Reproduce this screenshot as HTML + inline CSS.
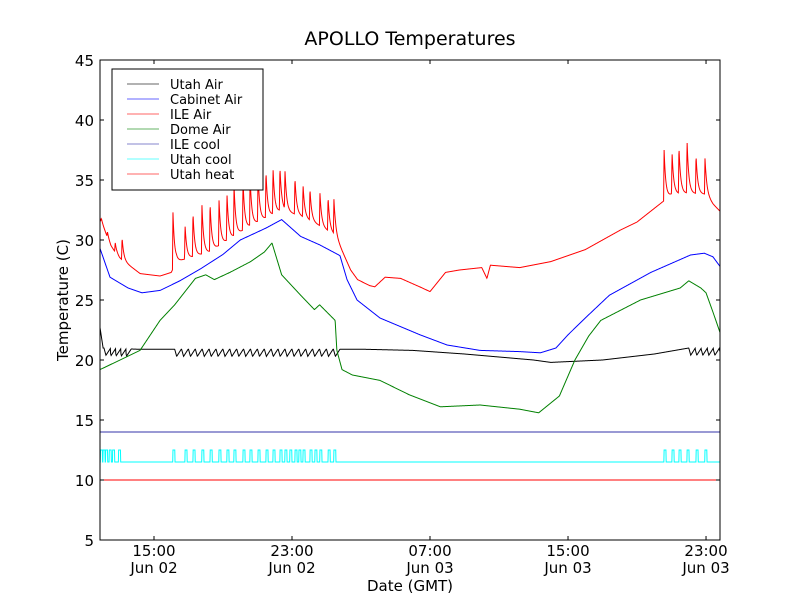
<!DOCTYPE html>
<html><head><meta charset="utf-8"><style>
body{margin:0;background:#fff;}
svg text{font-family:"DejaVu Sans","Liberation Sans",sans-serif;}
</style></head><body>
<svg id="chart" width="800" height="600" viewBox="0 0 800 600">
<rect width="800" height="600" fill="#fff"/>
<text x="410" y="45" text-anchor="middle" font-size="19">APOLLO Temperatures</text>
<g id="plot"></g>
<rect x="100" y="60" width="620" height="480" fill="none" stroke="#000" stroke-width="1"/>
<g id="axes"></g>
<text x="410" y="591" text-anchor="middle" font-size="15">Date (GMT)</text>
<text transform="translate(68,300) rotate(-90)" text-anchor="middle" font-size="15">Temperature (C)</text>
<g>
<rect x="112" y="69" width="151" height="121" fill="#fff" stroke="#000" stroke-width="1"/>
<g id="legend"></g>
</g>
</svg>
<script>
// hours since Jun 02 00:00 GMT
const tMin = 11.87, tMax = 47.81, yMin = 5, yMax = 45;
const yTicks = [5,10,15,20,25,30,35,40,45];
const xTickHours = [15,23,31,39,47];
const xTickTimes = ["15:00","23:00","07:00","15:00","23:00"];
const xTickDays = ["Jun 02","Jun 02","Jun 03","Jun 03","Jun 03"];

const cabinetT = [11.87,12.45,13.5,14.3,15.35,16.5,17.7,19,20,21.5,22.4,23.5,24.6,25.78,26.19,26.77,28.1,30.42,31.99,33.9,36.2,37.4,38.3,39,40,41.4,43.8,46.1,46.9,47.4,47.81];
const cabinetV = [29.3,26.9,26,25.6,25.8,26.6,27.6,28.8,30,31,31.7,30.3,29.6,28.7,26.7,25,23.5,22.1,21.25,20.8,20.7,20.6,21,22.1,23.5,25.4,27.3,28.75,28.9,28.6,27.8];

const domeT = [11.87,14.19,15.35,16.2,17.4,18,18.5,19.4,20.6,21.4,21.84,22.4,23.5,24.3,24.6,25.5,25.6,25.9,26.5,28.1,29.8,31.6,33.9,36.2,37.3,38.5,39.4,40.2,40.9,43.2,45.5,46,46.7,47,47.4,47.81];
const domeV = [19.2,20.8,23.3,24.6,26.8,27.1,26.7,27.3,28.2,29,29.75,27.1,25.4,24.2,24.6,23.3,20.8,19.2,18.75,18.3,17.1,16.1,16.25,15.9,15.6,17,20,22,23.3,25,26,26.6,26,25.6,24,22.3];

const ileBaseT = [11.87,12.5,13.0,14.2,15.35,16.0,16.3,18.2,20.6,22.4,23.5,24.6,25.5,26.4,26.8,27.5,27.8,28.4,29.3,30.4,31,31.9,32.7,34,34.3,34.5,36.2,38,40,42,43,44.5,45,46,47,47.4,47.81];
const ileBaseV = [31.8,29.5,28.5,27.2,27,27.3,28.2,29,31.2,32.5,32,31.2,30.4,27.5,26.7,26.2,26.1,26.9,26.8,26.1,25.7,27.3,27.5,27.7,26.8,27.9,27.7,28.2,29.2,30.8,31.5,33.2,33.8,33.9,33.8,33,32.4];
const ileSpikeT = [11.95,12.30,12.75,13.15,16.10,16.80,17.26,17.78,18.25,18.77,19.23,19.64,20.16,20.57,21.03,21.49,21.90,22.30,22.59,23.17,23.64,24.04,24.62,25.09,25.43,44.57,45.03,45.43,45.90,46.42,46.94];
const ileSpikeV = [31.8,30.7,29.8,30.2,32.3,31.25,32.3,32.9,33.1,33.3,33.9,34.6,35,35.3,35.6,35.75,36,36.1,35.9,35.2,34.6,34.3,33.9,33.6,33.4,37.5,37.3,37.8,38.3,37.1,36.8];

const utahAirT = [11.87,12.05,14,16,27,30,33,37,38,41,44,46,47.81];
const utahAirV = [22.7,21,20.9,20.9,20.9,20.8,20.5,20,19.8,20,20.5,21,21];
const utahToothT = [12.1,12.4,12.7,13.0,13.3,16.2,16.6,17.0,17.4,17.8,18.2,18.6,19.0,19.4,19.8,20.2,20.6,21.0,21.4,21.8,22.2,22.6,23.0,23.4,23.8,24.2,24.6,25.0,25.4,46.0,46.35,46.7,47.05,47.4,47.75];
const toothDepth = 0.6;

const ileCoolV = 14;
const utahCoolBase = 11.5, utahCoolHigh = 12.5;
const utahCoolT = [11.9,12.05,12.2,12.4,12.6,12.95,16.10,16.80,17.26,17.78,18.25,18.77,19.23,19.64,20.16,20.57,21.03,21.49,21.90,22.30,22.59,22.88,23.17,23.40,23.64,24.04,24.33,24.62,25.09,25.43,44.57,45.03,45.43,45.90,46.42,46.94];
const utahHeatV = 10;

const X = t => 100 + (t - tMin) / (tMax - tMin) * 620;
const Y = v => 540 - (v - yMin) / (yMax - yMin) * 480;
const ns = "http://www.w3.org/2000/svg";
function interp(ts, vs, t){
  if (t <= ts[0]) return vs[0];
  for (let i=1;i<ts.length;i++) if (t<=ts[i]) {const f=(t-ts[i-1])/(ts[i]-ts[i-1]);return vs[i-1]+f*(vs[i]-vs[i-1]);}
  return vs[vs.length-1];
}
const plot = document.getElementById('plot');
function addPath(d, color, name){
  const p = document.createElementNS(ns,'path');
  p.setAttribute('d', d); p.setAttribute('fill','none'); p.setAttribute('stroke', color); p.setAttribute('stroke-width','1');
  
  
  plot.appendChild(p);
}
function sampled(fn){
  let d=''; const step=0.015;
  for (let t=tMin; t<=tMax+1e-9; t+=step) d += (d?'L':'M') + X(t).toFixed(2)+','+Y(fn(t)).toFixed(2);
  return d;
}
addPath(`M100,${Y(utahHeatV)}H720`, '#ff0000', 'utah-heat-line');
addPath(`M100,${Y(ileCoolV)}H720`, '#3333aa', 'ile-cool-line');
addPath(sampled(t => utahCoolT.some(s => t>=s && t<s+0.12) ? utahCoolHigh : utahCoolBase), '#00ffff', 'utah-cool-line');
addPath(sampled(t => {
  let v = interp(utahAirT, utahAirV, t);
  for (const s of utahToothT) if (t>=s && t<s+0.38) { const f=(t-s)/0.38; v -= toothDepth*(f<0.3 ? f/0.3 : (1-f)/0.7); break; }
  return v;
}), '#000000', 'utah-air-line');
addPath(sampled(t => interp(domeT, domeV, t)), '#008000', 'dome-air-line');
addPath(sampled(t => interp(cabinetT, cabinetV, t)), '#0000ff', 'cabinet-air-line');
addPath(sampled(t => {
  let v = interp(ileBaseT, ileBaseV, t), add = 0;
  ileSpikeT.forEach((s,i) => {
    const amp = ileSpikeV[i] - interp(ileBaseT, ileBaseV, s);
    if (t>=s-0.03 && t<s) add = Math.max(add, amp*(t-s+0.03)/0.03);
    else if (t>=s) add = Math.max(add, amp*Math.exp(-(t-s)/0.1));
  });
  return v + add;
}), '#ff0000', 'ile-air-line');

const axes = document.getElementById('axes');
function el(tag, attrs, text){
  const e = document.createElementNS(ns, tag);
  for (const k in attrs) e.setAttribute(k, attrs[k]);
  if (text!==undefined) e.textContent = text;
  axes.appendChild(e); return e;
}
yTicks.forEach(v => {
  const y = Y(v);
  const a = el('line',{x1:100,x2:104,y1:y,y2:y,stroke:'#000'});
  
  const b = el('line',{x1:716,x2:720,y1:y,y2:y,stroke:'#000'});
  
  const t = el('text',{x:94,y:y+6,'text-anchor':'end','font-size':15}, String(v));
  
  
});
xTickHours.forEach((h,i) => {
  const x = X(h);
  const a = el('line',{x1:x,x2:x,y1:536,y2:540,stroke:'#000'});
  
  const b = el('line',{x1:x,x2:x,y1:60,y2:64,stroke:'#000'});
  
  const t1 = el('text',{x:x,y:556,'text-anchor':'middle','font-size':15}, xTickTimes[i]);
  
  
  const t2 = el('text',{x:x,y:573,'text-anchor':'middle','font-size':15}, xTickDays[i]);
  
  
});
const legNames = ["Utah Air","Cabinet Air","ILE Air","Dome Air","ILE cool","Utah cool","Utah heat"];
const legColors = ["#000","#0000ff","#ff0000","#008000","#3333aa","#00ffff","#ff0000"];
const leg = document.getElementById('legend');
legNames.forEach((n,i) => {
  const y = 84 + i*15;
  const g = document.createElementNS(ns,'g');
  
  
  const l = document.createElementNS(ns,'line');
  l.setAttribute('x1',127); l.setAttribute('x2',159); l.setAttribute('y1',y); l.setAttribute('y2',y);
  l.setAttribute('stroke',legColors[i]); l.setAttribute('stroke-opacity','0.6');
  const t = document.createElementNS(ns,'text');
  t.setAttribute('x',170); t.setAttribute('y',y+5); t.setAttribute('font-size','13'); t.textContent = n;
  g.appendChild(l); g.appendChild(t); leg.appendChild(g);
});
</script>
</body></html>
